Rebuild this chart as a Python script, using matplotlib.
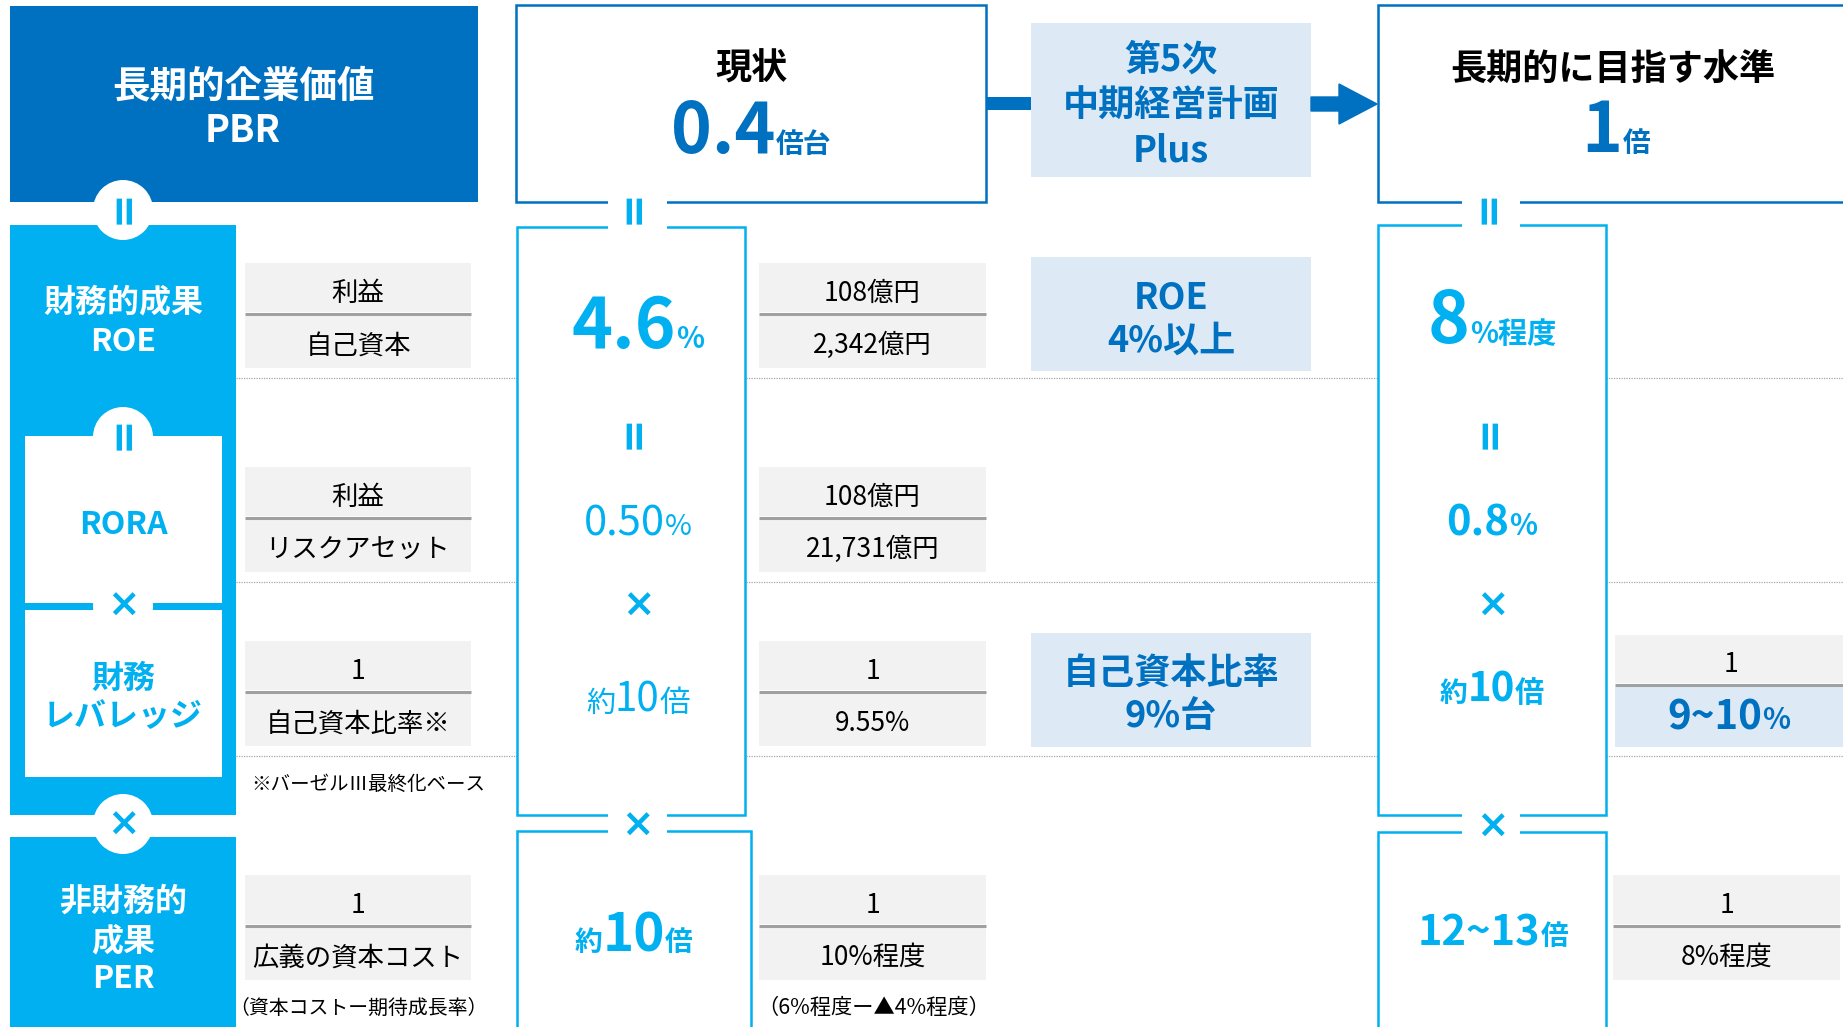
import matplotlib
matplotlib.use("Agg")
import matplotlib.pyplot as plt
from matplotlib.patches import Rectangle, Circle, FancyArrow

FAM = ['Noto Sans CJK JP', 'DejaVu Sans']
plt.rcParams['font.family'] = FAM

# ---------------- data (text content) ----------------
left_labels = [["長期的企業価値", "PBR"], ["財務的成果", "ROE"], ["RORA"],
               ["財務", "レバレッジ"], ["非財務的", "成果", "PER"]]
headers = ["現状", "長期的に目指す水準"]
pbr_current = ["0.4", "倍台"]
pbr_target = ["1", "倍"]
factor_num = ["利益", "利益", "1", "1"]
factor_den = ["自己資本", "リスクアセット", "自己資本比率※", "広義の資本コスト"]
current_num = ["108億円", "108億円", "1", "1"]
current_den = ["2,342億円", "21,731億円", "9.55%", "10%程度"]
target_num = ["1", "1"]
target_den = ["9~10", "8%程度"]
notes = ["※バーゼルⅢ最終化ベース", "（資本コストー期待成長率）", "（6%程度ー▲4%程度）"]
plan_labels = [["第5次", "中期経営計画", "Plus"], ["ROE", "4%以上"], ["自己資本比率", "9%台"]]
current_roe = ["4.6", "%"]
current_rora = ["0.50", "%"]
current_lev = ["約", "10", "倍"]
current_per = ["約", "10", "倍"]
target_roe = ["8", "%程度"]
target_rora = ["0.8", "%"]
target_lev = ["約", "10", "倍"]
target_per = ["12~13", "倍"]
pct = "%"

# ---------------- styles ----------------
DARK = "#0070C0"
LIGHT = "#00B0F0"
PALE = "#DDEAF6"
GRAY = "#F2F2F2"
DIV = "#A0A0A0"
DOT = "#A6A6A6"
DY = 4  # vertical optical correction for centred text

W, H = 1843, 1027
fig = plt.figure(figsize=(W / 100, H / 100), dpi=100)
ax = fig.add_axes([0, 0, 1, 1])
ax.set_xlim(0, W)
ax.set_ylim(H, 0)
ax.axis('off')
renderer = fig.canvas.get_renderer()


def rect(x0, y0, x1, y1, fc="none", ec="none", lw=0, z=2):
    ax.add_patch(Rectangle((x0, y0), x1 - x0, y1 - y0, facecolor=fc,
                           edgecolor=ec, linewidth=lw, zorder=z))


def txt(x, y, s, size, color="black", weight="normal", z=6, **kw):
    return ax.text(x, y + DY, s, fontsize=size, color=color, fontweight=weight,
                   ha="center", va="center", zorder=z, family=FAM, **kw)


def rich(xc, yb, parts):
    ts = []
    for s, size, weight, color in parts:
        ts.append(ax.text(0, yb, s, fontsize=size, fontweight=weight, color=color,
                          ha="left", va="baseline", zorder=6, family=FAM))
    ws = [t.get_window_extent(renderer).width for t in ts]
    cur = xc - sum(ws) / 2
    for t, w in zip(ts, ws):
        t.set_x(cur)
        cur += w


def eq(x, y, color=LIGHT):
    ax.text(x, y - 5, "=", rotation=90, fontsize=30, fontweight="bold", color=color,
            ha="center", va="center", zorder=7, family="DejaVu Sans")


def times(x, y, color=LIGHT):
    ax.text(x, y, "×", fontsize=28, fontweight="bold", color=color,
            ha="center", va="center", zorder=7, family="DejaVu Sans")


# dotted separators
for yy in [378, 582, 756]:
    ax.plot([236, W], [yy, yy], color=DOT, lw=0.9, ls=(0, (1, 1)), zorder=1)

# ---------------- left column ----------------
rect(10, 6, 478, 202, fc=DARK)
rect(10, 225, 236, 815, fc=LIGHT)
rect(25, 436, 222, 603, fc="white", z=3)
rect(25, 610, 222, 777, fc="white", z=3)
rect(10, 837, 236, H + 5, fc=LIGHT)
for cy in [210, 437, 606, 824]:
    ax.add_patch(Circle((123, cy), 30, facecolor="white", edgecolor="none", zorder=4))
eq(123, 212)
eq(123, 438)
times(123, 606)
times(123, 825)

txt(243, 82, left_labels[0][0], 27, "white", "bold")
txt(243, 127, left_labels[0][1], 27, "white", "bold")
txt(123, 298, left_labels[1][0], 23, "white", "bold")
txt(123, 338, left_labels[1][1], 23, "white", "bold")
txt(123, 521, left_labels[2][0], 23, LIGHT, "bold")
txt(123, 675, left_labels[3][0], 23, LIGHT, "bold")
txt(123, 713, left_labels[3][1], 23, LIGHT, "bold")
txt(123, 898, left_labels[4][0], 23, "white", "bold")
txt(123, 937, left_labels[4][1], 23, "white", "bold")
txt(123, 975, left_labels[4][2], 23, "white", "bold")


# ---------------- fraction cells ----------------
def fraction(x0, x1, t, num, den, den_fc=GRAY, mid=None, bot=None):
    mid = t + 50.5 if mid is None else mid
    bot = t + 105 if bot is None else bot
    rect(x0, t, x1, mid - 1.5, fc=GRAY)
    rect(x0, mid + 2.5, x1, bot, fc=den_fc)
    ax.plot([x0, x1], [mid, mid], color=DIV, lw=2.2, zorder=3, solid_capstyle="butt")
    xc = (x0 + x1) / 2
    txt(xc, (t + mid) / 2 + 1, num, 19)
    if den is not None:
        txt(xc, (mid + bot) / 2 + 1, den, 19)


rows_top = [263, 467, 641, 875]
for i, t in enumerate(rows_top):
    fraction(245, 471, t, factor_num[i], factor_den[i])
    fraction(759, 986, t, current_num[i], current_den[i])
fraction(1615, W + 5, 635, target_num[0], None, den_fc=PALE, mid=684.5, bot=747)
rich(1729, 729, [(target_den[0], 29, "bold", DARK), (pct, 21, "bold", DARK)])
fraction(1613, 1840, 875, target_num[1], target_den[1])

ax.text(251, 780 + DY, notes[0], fontsize=14, ha="left", va="center", zorder=6, family=FAM)
txt(358, 1004, notes[1], 14.3)
txt(874, 1004, notes[2], 15.3)

# ---------------- current column ----------------
rect(516, 5, 986, 202, fc="white", ec=DARK, lw=1.8, z=3)
rect(517, 227, 745, 815, fc="white", ec=LIGHT, lw=1.8, z=3)
rect(517, 831, 751, H + 10, fc="white", ec=LIGHT, lw=1.8, z=3)
rect(608, 195, 667, 236, fc="white", z=4)
rect(608, 808, 667, 840, fc="white", z=4)
eq(633, 212)
times(637, 826)

txt(751, 65, headers[0], 26, "black", "bold")
rich(751, 153, [(pbr_current[0], 50, "bold", DARK), (pbr_current[1], 20, "bold", DARK)])
rich(638, 348, [(current_roe[0], 50, "bold", LIGHT), (current_roe[1], 21, "bold", LIGHT)])
eq(633, 437)
rich(638, 535, [(current_rora[0], 30, "normal", LIGHT), (current_rora[1], 21, "normal", LIGHT)])
times(638, 606)
rich(638, 712, [(current_lev[0], 21, "normal", LIGHT), (current_lev[1], 29, "normal", LIGHT),
                (current_lev[2], 22, "normal", LIGHT)])
rich(634, 951, [(current_per[0], 20, "bold", LIGHT), (current_per[1], 38, "bold", LIGHT),
                (current_per[2], 20, "bold", LIGHT)])

# ---------------- plan column ----------------
rect(986, 97, 1031, 110, fc=DARK)
rect(1031, 23, 1311, 177, fc=PALE)
rect(1031, 257, 1311, 371, fc=PALE)
rect(1031, 633, 1311, 747, fc=PALE)
ax.add_patch(FancyArrow(1311, 104, 66, 0, width=14, head_width=40, head_length=38,
                        length_includes_head=True, color=DARK, zorder=3))
for yy, s in zip([56, 102, 147], plan_labels[0]):
    txt(1171, yy, s, 26, DARK, "bold")
for yy, s in zip([294, 337], plan_labels[1]):
    txt(1171, yy, s, 26, DARK, "bold")
for yy, s in zip([670, 713], plan_labels[2]):
    txt(1171, yy, s, 26, DARK, "bold")

# ---------------- target column ----------------
rect(1378, 5, W + 20, 202, fc="white", ec=DARK, lw=1.8, z=3)
rect(1378, 225, 1606, 815, fc="white", ec=LIGHT, lw=1.8, z=3)
rect(1378, 832, 1606, H + 10, fc="white", ec=LIGHT, lw=1.8, z=3)
rect(1462, 195, 1520, 234, fc="white", z=4)
rect(1462, 808, 1520, 840, fc="white", z=4)
eq(1488, 212)
times(1492, 827)

txt(1613, 66, headers[1], 26, "black", "bold")
rich(1616, 152, [(pbr_target[0], 50, "bold", DARK), (pbr_target[1], 20, "bold", DARK)])
rich(1492, 343, [(target_roe[0], 51, "bold", LIGHT), (target_roe[1], 21, "bold", LIGHT)])
eq(1489, 437)
rich(1492, 535, [(target_rora[0], 30, "bold", LIGHT), (target_rora[1], 21, "bold", LIGHT)])
times(1492, 606)
rich(1492, 702, [(target_lev[0], 20, "bold", LIGHT), (target_lev[1], 29, "bold", LIGHT),
                 (target_lev[2], 21, "bold", LIGHT)])
rich(1493, 945, [(target_per[0], 30, "bold", LIGHT), (target_per[1], 20, "bold", LIGHT)])

fig.savefig("out.png", dpi=100, facecolor="white")
